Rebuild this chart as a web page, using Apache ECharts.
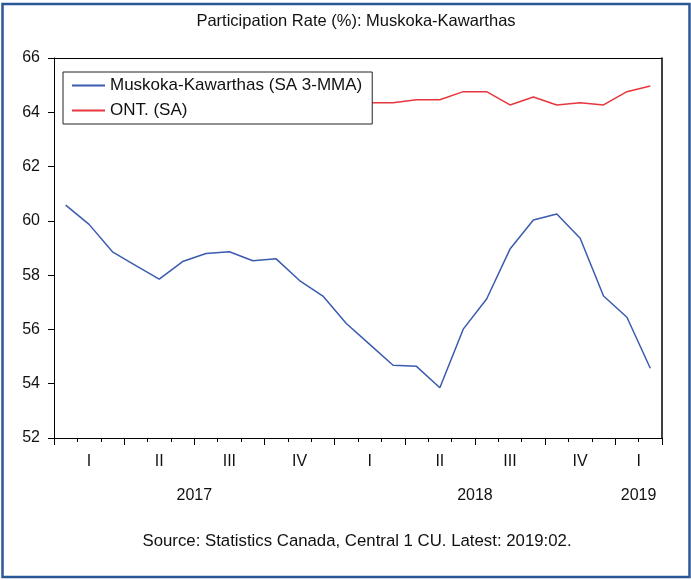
<!DOCTYPE html>
<html lang="en">
<head>
    <meta charset="utf-8">
    <title>Participation Rate (%): Muskoka-Kawarthas</title>
    <style>
        body {
            margin: 0;
            background: #fff;
        }

        #ec {
            width: 691px;
            height: 580px;
        }
    </style>
</head>
<body>
    <div id="ec"></div>
    <script src="https://cdn.jsdelivr.net/npm/echarts@6/dist/echarts.min.js"></script>
    <script>
        // monthly categories, Jan 2017 - Feb 2019
        var months = [
            '2017-01', '2017-02', '2017-03', '2017-04', '2017-05', '2017-06',
            '2017-07', '2017-08', '2017-09', '2017-10', '2017-11', '2017-12',
            '2018-01', '2018-02', '2018-03', '2018-04', '2018-05', '2018-06',
            '2018-07', '2018-08', '2018-09', '2018-10', '2018-11', '2018-12',
            '2019-01', '2019-02'
        ];

        // Muskoka-Kawarthas (SA 3-MMA)
        var muskoka = [
            60.58, 59.87, 58.86, 58.35, 57.85, 58.50,
            58.80, 58.86, 58.53, 58.60, 57.80, 57.23,
            56.22, 55.45, 54.68, 54.64, 53.85, 56.01,
            57.12, 58.96, 60.03, 60.25, 59.36, 57.23,
            56.45, 54.57
        ];

        // ONT. (SA) -- 2017 values sit behind the legend box, estimated
        var ontario = [
            64.6, 64.8, 64.9, 64.8, 64.7, 64.6,
            64.6, 64.5, 64.6, 64.6, 64.8, 64.7,
            64.4, 64.35, 64.35, 64.46, 64.46, 64.76,
            64.76, 64.27, 64.56, 64.27, 64.35, 64.27,
            64.76, 64.97
        ];

        var quarterNames = ['I', 'II', 'III', 'IV'];
        var seriesNames = ['Muskoka-Kawarthas (SA 3-MMA)', 'ONT. (SA)'];
        var yTicks = [52, 54, 56, 58, 60, 62, 64, 66];

        (function() {
            'use strict';

            var FONT = '"Liberation Sans", Arial, sans-serif';

            // group month indexes by quarter and by year -> label at centre of group
            function groupCentres(keyFn, nameFn) {
                var groups = {}, order = [];
                months.forEach(function(m, i) {
                    var k = keyFn(m);
                    if (!groups[k]) { groups[k] = []; order.push(k); }
                    groups[k].push(i + 0.5);
                });
                var out = {};
                order.forEach(function(k) {
                    var g = groups[k];
                    var c = (g[0] + g[g.length - 1]) / 2;
                    out[Math.round(c * 2)] = nameFn(k);
                });
                return out;
            }

            var quarterLabels = groupCentres(function(m) {
                return m.slice(0, 4) + 'Q' + Math.floor((+m.slice(5) - 1) / 3);
            }, function(k) {
                return quarterNames[+k.slice(5)];
            });
            var yearLabels = groupCentres(function(m) {
                return m.slice(0, 4);
            }, function(k) {
                return k;
            });

            function labelAxis(lookup, margin) {
                return {
                    type: 'value',
                    position: 'bottom',
                    min: 0,
                    max: months.length,
                    interval: 0.5,
                    axisLine: { show: false },
                    axisTick: { show: false },
                    splitLine: { show: false },
                    axisLabel: {
                        margin: margin,
                        color: '#111',
                        fontFamily: FONT,
                        fontSize: 16,
                        showMinLabel: true,
                        showMaxLabel: true,
                        formatter: function(v) {
                            return lookup[Math.round(v * 2)] || '';
                        }
                    }
                };
            }

            var black = { color: '#000', width: 1, type: 'solid' };

            var option = {
                backgroundColor: '#fff',
                animation: false,
                title: [{
                    text: 'Participation Rate (%): Muskoka-Kawarthas',
                    left: 356,
                    top: 13,
                    padding: 0,
                    textAlign: 'center',
                    textStyle: { fontFamily: FONT, fontSize: 16.5, fontWeight: 'normal', color: '#111' }
                }, {
                    text: 'Source: Statistics Canada, Central 1 CU. Latest: 2019:02.',
                    left: 357,
                    top: 533,
                    padding: 0,
                    textAlign: 'center',
                    textStyle: { fontFamily: FONT, fontSize: 16.8, fontWeight: 'normal', color: '#111' }
                }],
                legend: {
                    data: seriesNames,
                    orient: 'vertical',
                    left: 63,
                    top: 72,
                    padding: [5, 10, 5, 9],
                    itemGap: 8,
                    itemWidth: 33,
                    itemHeight: 2,
                    icon: 'rect',
                    borderColor: '#222',
                    borderWidth: 1,
                    backgroundColor: '#fff',
                    textStyle: { fontFamily: FONT, fontSize: 17, lineHeight: 17, color: '#111' }
                },
                grid: {
                    left: 54,
                    right: 29,
                    top: 58,
                    bottom: 142,
                    show: false
                },
                xAxis: [{
                    type: 'category',
                    data: months,
                    position: 'bottom',
                    boundaryGap: true,
                    axisLine: { show: true, onZero: false, lineStyle: black },
                    axisTick: { show: true, interval: 0, length: 4, lineStyle: black },
                    axisLabel: { show: false }
                }, {
                    // longer ticks on quarter boundaries
                    type: 'category',
                    data: months,
                    position: 'bottom',
                    boundaryGap: true,
                    axisLine: { show: false },
                    axisTick: {
                        show: true,
                        length: 7,
                        lineStyle: black,
                        interval: function(i) { return i % 3 === 0; }
                    },
                    axisLabel: { show: false }
                },
                labelAxis(quarterLabels, 16),
                labelAxis(yearLabels, 50),
                {
                    // top edge of the plot box
                    type: 'category',
                    data: months,
                    position: 'top',
                    axisLine: { show: true, onZero: false, lineStyle: black },
                    axisTick: { show: false },
                    axisLabel: { show: false }
                }],
                yAxis: [{
                    type: 'value',
                    min: yTicks[0],
                    max: yTicks[yTicks.length - 1],
                    interval: 2,
                    position: 'left',
                    axisLine: { show: true, onZero: false, lineStyle: black },
                    axisTick: { show: true, inside: false, length: 6, lineStyle: black },
                    splitLine: { show: false },
                    axisLabel: { margin: 14, color: '#111', fontFamily: FONT, fontSize: 16 }
                }, {
                    // right edge of the plot box
                    type: 'value',
                    min: yTicks[0],
                    max: yTicks[yTicks.length - 1],
                    interval: 2,
                    position: 'right',
                    axisLine: { show: true, onZero: false, lineStyle: { color: '#000', width: 1.5 } },
                    axisTick: { show: false },
                    splitLine: { show: false },
                    axisLabel: { show: false }
                }],
                series: [{
                    name: seriesNames[0],
                    type: 'line',
                    data: muskoka,
                    symbol: 'none',
                    lineStyle: { color: '#3A5BB0', width: 1.5 },
                    itemStyle: { color: '#3A5BB0' }
                }, {
                    name: seriesNames[1],
                    type: 'line',
                    data: ontario,
                    symbol: 'none',
                    lineStyle: { color: '#E8363E', width: 1.5 },
                    itemStyle: { color: '#E8363E' }
                }],
                graphic: [{
                    // outer frame
                    type: 'rect',
                    silent: true,
                    shape: { x: 2.5, y: 4, width: 687, height: 573 },
                    style: { fill: null, stroke: '#2B5797', lineWidth: 2.5 }
                }]
            };

            var chart = echarts.init(document.getElementById('ec'), null, { renderer: 'canvas' });
            chart.setOption(option);
        }());
    </script>
</body>
</html>
